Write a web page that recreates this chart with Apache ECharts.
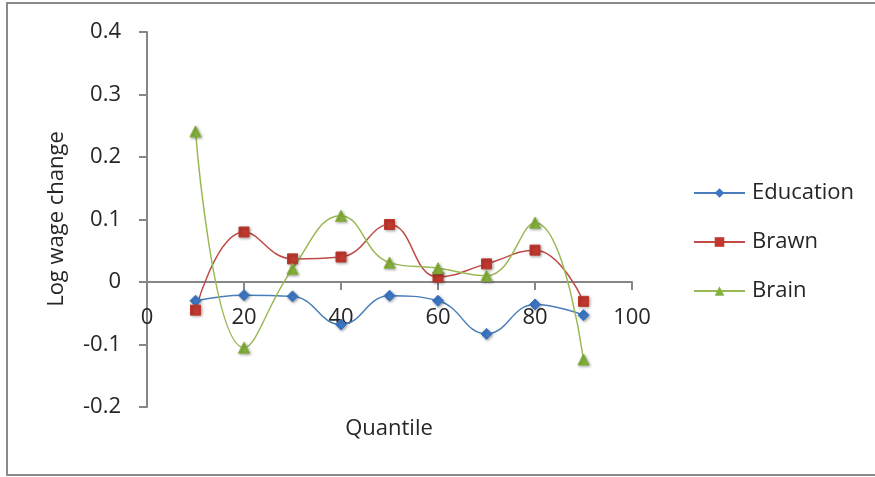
<!DOCTYPE html>
<html>
<head>
<meta charset="utf-8">
<script src="https://cdn.jsdelivr.net/npm/echarts@6/dist/echarts.min.js"></script>
<style>
  html, body { margin: 0; padding: 0; background: #fff; }
  #chart { width: 875px; height: 477px; }
</style>
</head>
<body>
<div id="chart"></div>
<script>
// Quantile positions and log wage change per group
const quantiles = [10, 20, 30, 40, 50, 60, 70, 80, 90];
const education = [-0.030, -0.021, -0.023, -0.068, -0.022, -0.030, -0.083, -0.036, -0.053];
const brawn     = [-0.045, 0.080, 0.037, 0.040, 0.092, 0.008, 0.029, 0.051, -0.031];
const brain     = [0.241, -0.105, 0.021, 0.106, 0.031, 0.022, 0.010, 0.095, -0.124];
const seriesNames = ['Education', 'Brawn', 'Brain'];

const FONT = '"Open Sans", sans-serif';
const textColor = '#262626';

// grid geometry: y from -0.2 (bottom) to 0.4 (top)
const GRID_TOP = 32, GRID_BOTTOM = 70, H = 477;
const plotH = H - GRID_TOP - GRID_BOTTOM;
// shift the x axis up from the grid bottom to the y = 0 line
const zeroOffset = -plotH * (0 - (-0.2)) / (0.4 - (-0.2));

function pairs(vals) {
  return quantiles.map((q, i) => [q, vals[i]]);
}

function makeSeries(name, vals, lineColor, markColor, symbol, size) {
  return {
    name: name,
    type: 'line',
    smooth: 0.45,
    data: pairs(vals),
    symbol: symbol,
    symbolSize: size,
    showAllSymbol: true,
    lineStyle: { color: lineColor, width: 1.5 },
    itemStyle: {
      color: markColor,
      borderColor: markColor,
      shadowColor: 'rgba(0,0,0,0.35)',
      shadowBlur: 3,
      shadowOffsetX: 1,
      shadowOffsetY: 1
    },
    emphasis: { disabled: true }
  };
}

const chart = echarts.init(document.getElementById('chart'), null, { renderer: 'canvas' });

chart.setOption({
  animation: false,
  backgroundColor: '#fff',
  grid: { left: 147, right: 243, top: GRID_TOP, bottom: GRID_BOTTOM, containLabel: false },
  xAxis: {
    type: 'value',
    min: 0, max: 100, interval: 20,
    offset: zeroOffset,
    axisLine: { onZero: false, lineStyle: { color: '#868686', width: 2 } },
    axisTick: { show: true, length: 8, inside: false, lineStyle: { color: '#868686', width: 2 } },
    axisLabel: { fontFamily: FONT, fontSize: 22, color: textColor, margin: 25 },
    splitLine: { show: false }
  },
  yAxis: {
    type: 'value',
    min: -0.2, max: 0.4, interval: 0.1,
    axisLine: { show: true, lineStyle: { color: '#868686', width: 2 } },
    axisTick: { show: true, length: 8, lineStyle: { color: '#868686', width: 2 } },
    axisLabel: {
      fontFamily: FONT, fontSize: 22, color: textColor, margin: 26,
      formatter: v => (Math.round(v * 10) / 10).toString()
    },
    splitLine: { show: false }
  },
  legend: {
    orient: 'vertical',
    left: 693, top: 182,
    padding: 0,
    itemWidth: 51, itemHeight: 12,
    itemGap: 27,
    data: seriesNames,
    textStyle: { fontFamily: FONT, fontSize: 22, color: textColor, padding: [0, 0, 0, 2] }
  },
  graphic: [
    {
      type: 'rect',
      shape: { x: 7, y: 3, width: 880, height: 472 },
      style: { fill: null, stroke: '#8a8a8a', lineWidth: 2 },
      silent: true, z: -1
    },
    {
      type: 'text',
      x: 57, y: 219, rotation: Math.PI / 2,
      style: {
        text: 'Log wage change', fontFamily: FONT, fontSize: 22,
        fill: textColor, align: 'center', verticalAlign: 'middle'
      }
    },
    {
      type: 'text',
      x: 389, y: 429,
      style: {
        text: 'Quantile', fontFamily: FONT, fontSize: 22,
        fill: textColor, align: 'center', verticalAlign: 'middle'
      }
    }
  ],
  series: [
    makeSeries('Education', education, '#4a7ebb', '#3d77c4', 'diamond', 11),
    makeSeries('Brawn', brawn, '#be4b48', '#c0392f', 'rect', 10),
    makeSeries('Brain', brain, '#98b954', '#86b13c', 'triangle', 11)
  ]
});
</script>
</body>
</html>
